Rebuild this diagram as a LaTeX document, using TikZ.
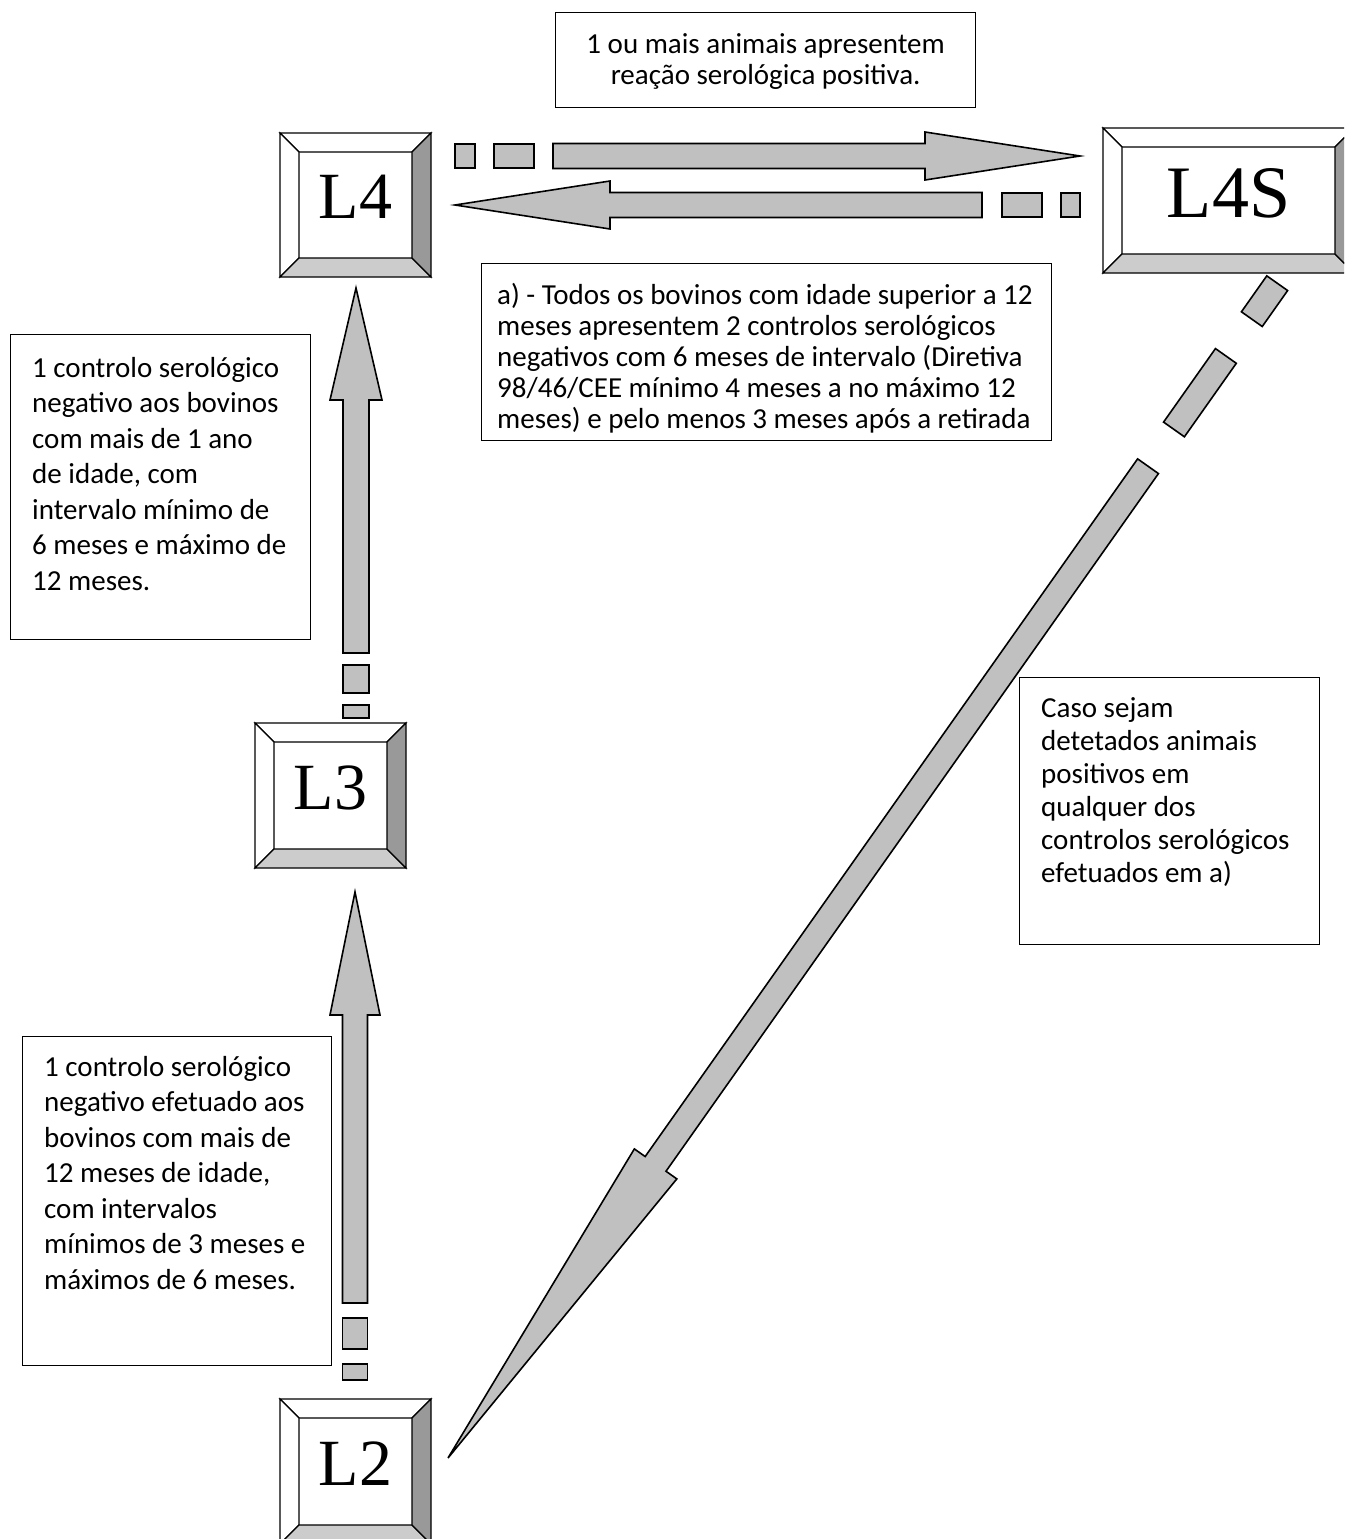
\documentclass[tikz,border=0pt]{standalone}
\usepackage{fontspec}
\setmainfont{Carlito}
\newfontfamily\lvlfont{Liberation Serif}
\usetikzlibrary{calc,positioning}
\definecolor{arrgray}{HTML}{C0C0C0}
\definecolor{bevlight}{HTML}{CCCCCC}
\definecolor{bevdark}{HTML}{999999}
\tikzset{
 lvl/.style={rectangle,inner sep=0pt,outer sep=0pt,
             font=\lvlfont\fontsize{66}{66}\selectfont,text depth=16pt},
 bevel/.style={draw=black,line width=1.2pt,line join=miter},
 note box/.style={draw,line width=1.3pt,inner sep=0pt,anchor=north west},
 note text/.style={anchor=north west,align=left,inner sep=0pt,
                   font=\fontsize{29}{31}\selectfont},
 note wide/.style={note text,font=\fontsize{29}{35.5}\selectfont},
 blk/.style={fill=arrgray,draw=black,line width=1.6pt,line join=miter}
}
% bevelled level box: name, centre, width, height, label
\newcommand{\lvlbox}[5]{%
 \node[lvl,minimum width=#3,minimum height=#4] (#1) at (#2) {#5};
 \coordinate (#1i1) at ($(#1.north west)+(19,19)$);
 \coordinate (#1i2) at ($(#1.north east)+(-19,19)$);
 \coordinate (#1i3) at ($(#1.south east)+(-19,-19)$);
 \coordinate (#1i4) at ($(#1.south west)+(19,-19)$);
 \draw[bevel,fill=white] (#1.north west)--(#1.north east)--(#1i2)--(#1i1)--cycle;
 \draw[bevel,fill=white] (#1.north west)--(#1i1)--(#1i4)--(#1.south west)--cycle;
 \draw[bevel,fill=bevlight] (#1.south west)--(#1i4)--(#1i3)--(#1.south east)--cycle;
 \draw[bevel,fill=bevdark] (#1.north east)--(#1.south east)--(#1i3)--(#1i2)--cycle;
}
% block arrow: tail, tip, half shaft, half head, head length
\newcommand{\blkarrow}[5]{%
 \coordinate (hb) at ($(#2)!#5!(#1)$);
 \draw[blk] ($(#1)!#3!90:(#2)$)--($(hb)!#3!90:(#2)$)--($(hb)!#4!90:(#2)$)--(#2)
   --($(hb)!#4!-90:(#2)$)--($(hb)!#3!-90:(#2)$)--($(#1)!#3!-90:(#2)$)--cycle;
}
% dash of a block arrow: from, to, half width
\newcommand{\blkdash}[3]{%
 \draw[blk] ($(#1)!#3!90:(#2)$)--($(#2)!#3!-90:(#1)$)
   --($(#2)!#3!90:(#1)$)--($(#1)!#3!-90:(#2)$)--cycle;
}

\begin{document}
\begin{tikzpicture}[x=1pt,y=-1pt]
 \clip (0,0) rectangle (1344,1539);
 % level boxes
 \lvlbox{L4}{355.5,205}{151pt}{144pt}{L4}
 \lvlbox{L4S}{1228.5,200.5}{251pt}{145pt}{\fontsize{74}{74}\selectfont L4S}
 \lvlbox{L3}{330.5,795.5}{151pt}{145pt}{L3}
 \lvlbox{L2}{355.5,1471.5}{151pt}{145pt}{L2}

 % L4 -> L4S and back
 \coordinate (upT) at (553,156);
 \coordinate (upH) at (1080,156);
 \blkarrow{upT}{upH}{12.5pt}{24pt}{155pt}
 \blkdash{455,156}{475,156}{12pt}
 \blkdash{494,156}{534,156}{12pt}
 \coordinate (dnT) at (982,205);
 \coordinate (dnH) at (455,205);
 \blkarrow{dnT}{dnH}{12.5pt}{24pt}{155pt}
 \blkdash{1002,205}{1042,205}{12pt}
 \blkdash{1061,205}{1080,205}{12pt}

 % L3 -> L4
 \coordinate (v3T) at (356,653);
 \coordinate (v3H) at (356,288);
 \blkarrow{v3T}{v3H}{13pt}{26pt}{112pt}
 \blkdash{356,665}{356,693}{13pt}
 \blkdash{356,705}{356,718}{13pt}

 % L2 -> L3
 \coordinate (v2T) at (355,1303);
 \coordinate (v2H) at (355,892);
 \blkarrow{v2T}{v2H}{12.5pt}{25pt}{123pt}
 \blkdash{355,1318}{355,1349}{12.5pt}
 \blkdash{355,1364}{355,1380}{12.5pt}

 % L4S -> L2
 \coordinate (dgH) at (448,1458);
 \coordinate (dgF) at (1277.2,283.2);
 \coordinate (dgT) at ($(dgH)!1214pt!(dgF)$);
 \blkarrow{dgT}{dgH}{12.75pt}{26pt}{360pt}
 \blkdash{$(dgH)!1259pt!(dgF)$}{$(dgH)!1349pt!(dgF)$}{12.75pt}
 \blkdash{$(dgH)!1394pt!(dgF)$}{dgF}{12.75pt}

 % notes
 \node[note box,minimum width=420pt,minimum height=95pt] (nTop) at (555,12) {};
 \node[note text,anchor=north,align=center] (tTop) at ($(nTop.north)+(0,21)$)
   {1 ou mais animais apresentem\\reação serológica positiva.};
 \node[note box,minimum width=570pt,minimum height=177pt] (nA) at (481,263) {};
 \node[note text] (tA) at ($(nA.north west)+(16,20)$)
   {a) - Todos os bovinos com idade superior a 12\\
    meses apresentem 2 controlos serológicos\\
    negativos com 6 meses de intervalo (Diretiva\\
    98/46/CEE mínimo 4 meses a no máximo 12\\
    meses) e pelo menos 3 meses após a retirada};
 \node[note box,minimum width=300pt,minimum height=305pt] (nL4) at (10,334) {};
 \node[note wide] (tL4) at ($(nL4.north west)+(22,23)$)
   {1 controlo serológico\\negativo aos bovinos\\com mais de 1 ano\\
    de idade, com\\intervalo mínimo de\\6 meses e máximo de\\12 meses.};
 \node[note box,minimum width=309pt,minimum height=329pt] (nL3) at (22,1036) {};
 \node[note wide] (tL3) at ($(nL3.north west)+(22,20)$)
   {1 controlo serológico\\negativo efetuado aos\\bovinos com mais de\\
    12 meses de idade,\\com intervalos\\mínimos de 3 meses e\\máximos de 6 meses.};
 \node[note box,minimum width=300pt,minimum height=267pt] (nPos) at (1019,677) {};
 \node[note text,font=\fontsize{29}{33}\selectfont] (tPos)
   at ($(nPos.north west)+(22,20)$)
   {Caso sejam\\detetados animais\\positivos em\\qualquer dos\\
    controlos serológicos\\efetuados em a)};
\end{tikzpicture}
\end{document}
